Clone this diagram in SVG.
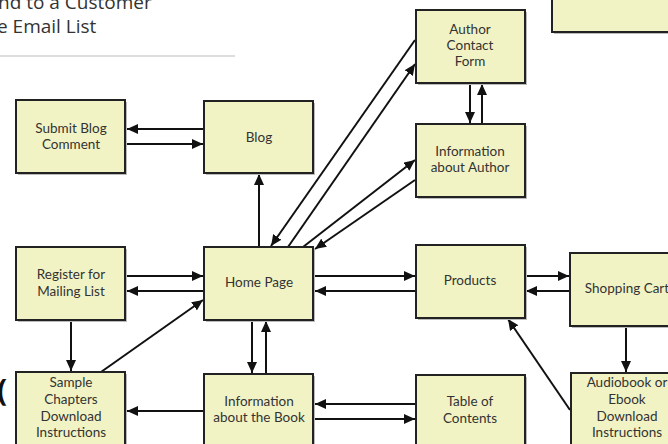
<svg xmlns="http://www.w3.org/2000/svg" width="668" height="444" viewBox="0 0 668 444">
<defs>
<marker id="ah" markerUnits="userSpaceOnUse" markerWidth="12" markerHeight="10" refX="11" refY="5" orient="auto">
<path d="M0,0 L11,5 L0,10 z" fill="#111"/>
</marker>
<style>
.box{fill:#f2f3c4;stroke:#222;stroke-width:2}
.sh{fill:#bbb}
.t{font-family:Lato,"Open Sans",sans-serif;font-size:13.5px;fill:#333;text-anchor:middle}
.a{stroke:#111;stroke-width:2;fill:none;marker-end:url(#ah)}
.title{font-family:"Open Sans","Noto Sans",sans-serif;font-size:19px;fill:#333}
</style>
</defs>
<rect width="668" height="444" fill="#fff"/>
<g id="title">
<text class="title" x="-2" y="9">nd to a Customer</text>
<text class="title" x="-3" y="33">e Email List</text>
<rect x="0" y="55" width="235" height="2" fill="#ddd"/>
<text x="-3" y="401" font-family="'Open Sans',sans-serif" font-size="30" font-weight="bold" fill="#111">(</text>
</g>
<g id="connectors">
<line class="a" x1="204" y1="129" x2="127" y2="129"/>
<line class="a" x1="126" y1="144" x2="203" y2="144"/>
<line class="a" x1="259" y1="247" x2="259" y2="174"/>
<line class="a" x1="126" y1="276" x2="203" y2="276"/>
<line class="a" x1="204" y1="291" x2="127" y2="291"/>
<line class="a" x1="71" y1="320" x2="71" y2="371"/>
<line class="a" x1="101" y1="372" x2="203" y2="300"/>
<line class="a" x1="252" y1="320" x2="252" y2="373"/>
<line class="a" x1="266" y1="374" x2="266" y2="321"/>
<line class="a" x1="204" y1="411" x2="127" y2="411"/>
<line class="a" x1="416" y1="404" x2="315" y2="404"/>
<line class="a" x1="314" y1="419" x2="415" y2="419"/>
<line class="a" x1="314" y1="276" x2="415" y2="276"/>
<line class="a" x1="416" y1="291" x2="315" y2="291"/>
<line class="a" x1="525" y1="276" x2="569" y2="276"/>
<line class="a" x1="570" y1="291" x2="526" y2="291"/>
<line class="a" x1="626" y1="326" x2="626" y2="372"/>
<line class="a" x1="570" y1="410" x2="508" y2="319"/>
<line class="a" x1="415" y1="40" x2="271" y2="246"/>
<line class="a" x1="288" y1="247" x2="415" y2="64"/>
<line class="a" x1="303" y1="247" x2="415" y2="160"/>
<line class="a" x1="415" y1="180" x2="315" y2="249"/>
<line class="a" x1="470" y1="83" x2="470" y2="123"/>
<line class="a" x1="482" y1="124" x2="482" y2="84"/>
</g>
<g id="topright">
<rect class="sh" x="554" y="-10" width="120" height="44"/>
<rect class="box" x="552" y="-12" width="120" height="44"/>
</g>
<g id="author-contact-form">
<rect class="sh" x="418" y="12" width="109" height="73"/>
<rect class="box" x="416" y="10" width="109" height="73"/>
<text class="t" x="470" y="34">Author</text>
<text class="t" x="470" y="50">Contact</text>
<text class="t" x="470" y="66">Form</text>
</g>
<g id="information-about-author">
<rect class="sh" x="418" y="126" width="109" height="73"/>
<rect class="box" x="416" y="124" width="109" height="73"/>
<text class="t" x="470" y="156">Information</text>
<text class="t" x="470" y="172">about Author</text>
</g>
<g id="submit-blog-comment">
<rect class="sh" x="18" y="102" width="109" height="73"/>
<rect class="box" x="16" y="100" width="109" height="73"/>
<text class="t" x="71" y="133">Submit Blog</text>
<text class="t" x="71" y="149">Comment</text>
</g>
<g id="blog">
<rect class="sh" x="206" y="103" width="109" height="72"/>
<rect class="box" x="204" y="101" width="109" height="72"/>
<text class="t" x="259" y="142">Blog</text>
</g>
<g id="register-for-mailing-list">
<rect class="sh" x="18" y="249" width="109" height="73"/>
<rect class="box" x="16" y="247" width="109" height="73"/>
<text class="t" x="71" y="279">Register for</text>
<text class="t" x="71" y="296">Mailing List</text>
</g>
<g id="home-page">
<rect class="sh" x="206" y="249" width="109" height="73"/>
<rect class="box" x="204" y="247" width="109" height="73"/>
<text class="t" x="259" y="287">Home Page</text>
</g>
<g id="products">
<rect class="sh" x="418" y="247" width="109" height="73"/>
<rect class="box" x="416" y="245" width="109" height="73"/>
<text class="t" x="470" y="285">Products</text>
</g>
<g id="shopping-cart">
<rect class="sh" x="572" y="255" width="110" height="73"/>
<rect class="box" x="570" y="253" width="110" height="73"/>
<text class="t" x="627" y="293">Shopping Cart</text>
</g>
<g id="sample-chapters">
<rect class="sh" x="18" y="374" width="109" height="80"/>
<rect class="box" x="16" y="372" width="109" height="80"/>
<text class="t" x="71" y="387">Sample</text>
<text class="t" x="71" y="404">Chapters</text>
<text class="t" x="71" y="421">Download</text>
<text class="t" x="71" y="437">Instructions</text>
</g>
<g id="information-about-the-book">
<rect class="sh" x="206" y="376" width="109" height="80"/>
<rect class="box" x="204" y="374" width="109" height="80"/>
<text class="t" x="259" y="406">Information</text>
<text class="t" x="259" y="422">about the Book</text>
</g>
<g id="table-of-contents">
<rect class="sh" x="418" y="377" width="109" height="80"/>
<rect class="box" x="416" y="375" width="109" height="80"/>
<text class="t" x="470" y="406">Table of</text>
<text class="t" x="470" y="423">Contents</text>
</g>
<g id="audiobook-ebook">
<rect class="sh" x="573" y="375" width="110" height="80"/>
<rect class="box" x="571" y="373" width="110" height="80"/>
<text class="t" x="627" y="387">Audiobook or</text>
<text class="t" x="627" y="404">Ebook</text>
<text class="t" x="627" y="421">Download</text>
<text class="t" x="627" y="437">Instructions</text>
</g>
</svg>
